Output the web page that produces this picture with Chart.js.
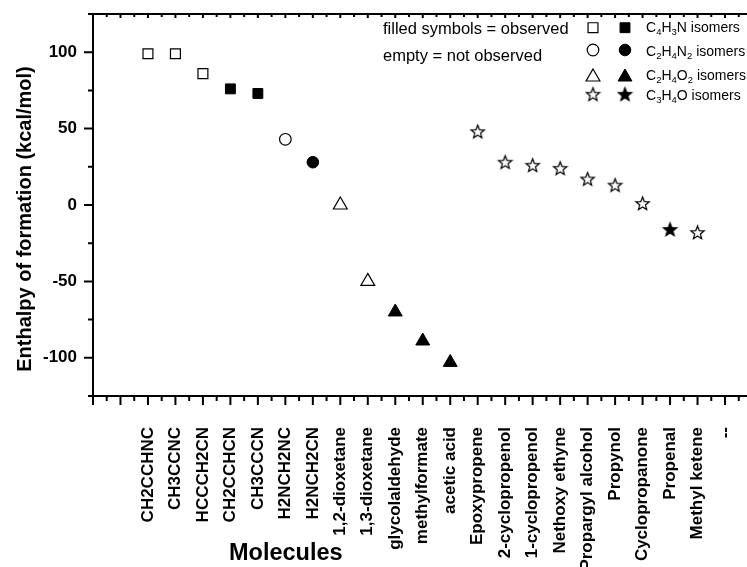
<!DOCTYPE html>
<html><head><meta charset="utf-8">
<script src="https://cdn.jsdelivr.net/npm/chart.js@4/dist/chart.umd.min.js"></script>
<style>
html,body{margin:0;padding:0;background:#fff;overflow:hidden;}
#wrap{position:relative;width:747px;height:567px;}
canvas{position:absolute;left:0;top:0;}
.t{position:absolute;font-family:"Liberation Sans",Arial,sans-serif;color:#000;white-space:nowrap;}
.t sub{font-size:68%;vertical-align:-0.35em;line-height:0;}
#ytitle{left:-176px;top:207px;width:400px;text-align:center;font-size:20px;line-height:24px;font-weight:bold;transform:rotate(-90deg);transform-origin:50% 50%;}
</style></head><body>
<div id="wrap">
<canvas id="c" width="747" height="567"></canvas>
<div class="t" style="left:383px;top:18px;font-size:16.5px;line-height:20px">filled symbols = observed</div>
<div class="t" style="left:383px;top:45px;font-size:16.5px;line-height:20px">empty = not observed</div>
<div class="t" style="left:646px;top:18px;font-size:14px;line-height:18px">C<sub>4</sub>H<sub>3</sub>N isomers</div>
<div class="t" style="left:646px;top:42px;font-size:14px;line-height:18px">C<sub>2</sub>H<sub>4</sub>N<sub>2</sub> isomers</div>
<div class="t" style="left:646px;top:66px;font-size:14px;line-height:18px">C<sub>2</sub>H<sub>4</sub>O<sub>2</sub> isomers</div>
<div class="t" style="left:646px;top:86px;font-size:14px;line-height:18px">C<sub>3</sub>H<sub>4</sub>O isomers</div>
<div class="t" style="left:229px;top:539px;font-size:23.5px;line-height:27px;font-weight:bold">Molecules</div>
<div class="t" id="ytitle">Enthalpy of formation (kcal/mol)</div>
</div>
<script>
// ---- data ----
const molecules = ['CH2CCHNC','CH3CCNC','HCCCH2CN','CH2CCHCN','CH3CCCN','H2NCH2NC','H2NCH2CN',
  '1,2-dioxetane','1,3-dioxetane','glycolaldehyde','methylformate','acetic acid',
  'Epoxypropene','2-cyclopropenol','1-cyclopropenol','Nethoxy ethyne','Propargyl alcohol',
  'Propynol','Cyclopropanone','Propenal','Methyl ketene','--'];
const enthalpy = [99,99,86,76,73,43,28,0,-50,-70,-89,-103,48,28,26,24,17,13,1,-16,-18,null];
const isomerGroup = ['C4H3N','C4H3N','C4H3N','C4H3N','C4H3N','C2H4N2','C2H4N2',
  'C2H4O2','C2H4O2','C2H4O2','C2H4O2','C2H4O2',
  'C3H4O','C3H4O','C3H4O','C3H4O','C3H4O','C3H4O','C3H4O','C3H4O','C3H4O',null];
const observed = [false,false,false,true,true,false,true,false,false,true,true,true,
  false,false,false,false,false,false,false,true,false,false];
const groups = ['C4H3N','C2H4N2','C2H4O2','C3H4O'];
const yTickValues = [-100,-50,0,50,100];

// ---- styling ----
const FONT = '"Liberation Sans", Arial, sans-serif';
function makeStar(filled){
  const c=document.createElement('canvas'); c.width=17; c.height=17;
  const g=c.getContext('2d');
  const cx=8.5, cy=9, R=7, r=3;
  g.beginPath();
  for(let i=0;i<10;i++){const a=-Math.PI/2+i*Math.PI/5;const rr=i%2?r:R;g.lineTo(cx+rr*Math.cos(a),cy+rr*Math.sin(a));}
  g.closePath();
  g.fillStyle=filled?'#000':'#fff'; g.fill();
  g.lineWidth=1.2; g.strokeStyle='#000'; g.stroke();
  return c;
}
const shapes = {
  C4H3N:{pointStyle:'rect',radius:7},
  C2H4N2:{pointStyle:'circle',radius:5.8},
  C2H4O2:{pointStyle:'triangle',radius:8},
  C3H4O:{pointStyle:null,radius:8}
};
const starOpen = makeStar(false), starFilled = makeStar(true);
function styleFor(g, obs){
  const s = shapes[g];
  const ps = s.pointStyle || (obs ? starFilled : starOpen);
  return {pointStyle:ps, radius:s.radius, borderWidth: obs?1:1.2,
    backgroundColor: obs?'#000':'#fff', borderColor:'#000'};
}

const datasets = [];
groups.forEach(g=>{
  [false,true].forEach(obs=>{
    const pts = [];
    molecules.forEach((m,i)=>{
      if(isomerGroup[i]===g && observed[i]===obs && enthalpy[i]!==null) pts.push({x:i+2,y:enthalpy[i]});
    });
    const st = styleFor(g,obs);
    datasets.push({label:g+(obs?' observed':' not observed'), data:pts, showLine:false,
      pointStyle:st.pointStyle, pointRadius:st.radius, pointBorderWidth:st.borderWidth,
      pointBackgroundColor:st.backgroundColor, pointBorderColor:st.borderColor});
  });
});

const axesPlugin = {
  id:'axesPlugin',
  afterDraw(chart){
    const {ctx, chartArea:{left,right,top,bottom}, scales:{x,y}} = chart;
    ctx.save();
    ctx.strokeStyle='#000'; ctx.lineWidth=2; ctx.lineCap='butt';
    ctx.beginPath();
    ctx.moveTo(left,top-1); ctx.lineTo(left,bottom+1);
    ctx.moveTo(left,top); ctx.lineTo(right,top);
    ctx.moveTo(left,bottom); ctx.lineTo(right,bottom);
    for(let v=-125; v<=125; v+=25){
      const py=y.getPixelForValue(v); const len = v%50===0?9:5;
      ctx.moveTo(left-len,py); ctx.lineTo(left,py);
    }
    for(let v=0; v<=x.max; v+=0.5){
      const px=x.getPixelForValue(v); const len = Number.isInteger(v)?9:5;
      ctx.moveTo(px,bottom); ctx.lineTo(px,bottom+len);
      ctx.moveTo(px,top); ctx.lineTo(px,top+(Number.isInteger(v)?4:3));
    }
    ctx.stroke();
    // legend symbols
    const rows=[27.7,50,77,94.3];
    groups.forEach((g,k)=>{
      [false,true].forEach((obs,j)=>{
        const st=styleFor(g,obs);
        ctx.fillStyle=st.backgroundColor; ctx.strokeStyle=st.borderColor; ctx.lineWidth=st.borderWidth;
        Chart.helpers.drawPoint(ctx,{pointStyle:st.pointStyle,radius:st.radius,borderWidth:st.borderWidth,rotation:0}, j?625:593, rows[k]);
      });
    });
    ctx.restore();
  }
};

new Chart(document.getElementById('c'), {
  type:'scatter',
  data:{datasets},
  options:{
    responsive:false, animation:false, devicePixelRatio:1,
    layout:{autoPadding:false, padding:{top:14,left:0,right:0,bottom:0}},
    plugins:{legend:{display:false}, tooltip:{enabled:false}},
    scales:{
      x:{type:'linear', min:0, max:23.8,
        grid:{display:true, drawOnChartArea:false, drawTicks:true, tickLength:9, color:'rgba(0,0,0,0)'},
        border:{display:false},
        ticks:{autoSkip:false, minRotation:90, maxRotation:90, padding:22, color:'#000',
          font:{family:FONT, size:17, weight:'bold'},
          callback:(v)=>{const i=Math.round(v)-2; return (i>=0&&i<molecules.length)?molecules[i]:'';}},
        afterBuildTicks:(s)=>{s.ticks = molecules.map((m,i)=>({value:i+2}));},
        afterFit:(s)=>{s.height=171; s.paddingLeft=0; s.paddingRight=0;}
      },
      y:{type:'linear', min:-125, max:125,
        grid:{display:true, drawOnChartArea:false, drawTicks:true, tickLength:9, color:'rgba(0,0,0,0)'},
        border:{display:false},
        ticks:{padding:7, color:'#000', font:{family:FONT, size:17, weight:'bold'}},
        afterBuildTicks:(s)=>{s.ticks = yTickValues.map(v=>({value:v}));},
        afterFit:(s)=>{s.width=93; s.paddingTop=0; s.paddingBottom=0;}
      }
    }
  },
  plugins:[axesPlugin]
});
</script>
</body></html>
